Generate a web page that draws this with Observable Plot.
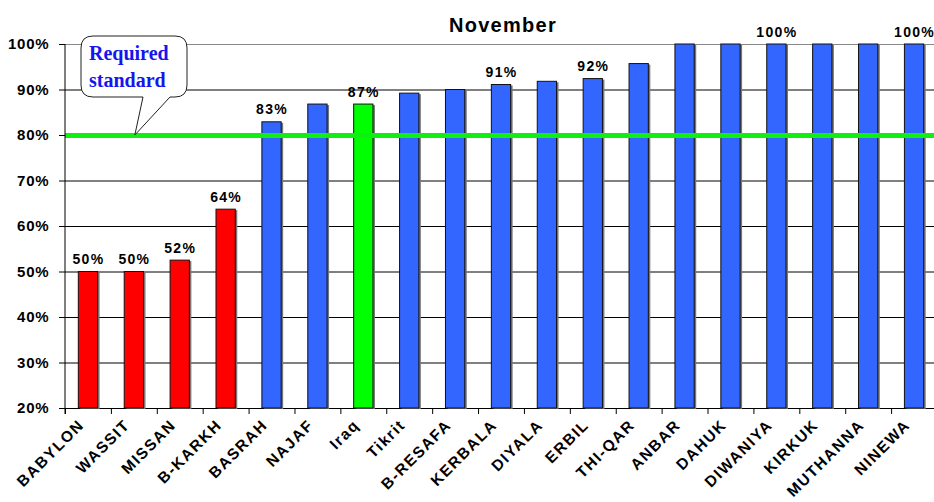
<!DOCTYPE html>
<html>
<head>
<meta charset="utf-8">
<script src="https://cdn.jsdelivr.net/npm/d3@7"></script>
<script src="https://cdn.jsdelivr.net/npm/@observablehq/plot@0.6"></script>
<style>
  html, body { margin: 0; padding: 0; background: #fff; }
</style>
</head>
<body>
<div id="chart"></div>
<script>
const categories = ["BABYLON","WASSIT","MISSAN","B-KARKH","BASRAH","NAJAF","Iraq","Tikrit","B-RESAFA","KERBALA","DIYALA","ERBIL","THI-QAR","ANBAR","DAHUK","DIWANIYA","KIRKUK","MUTHANNA","NINEWA"];
const values = [50, 50, 52.5, 63.7, 82.9, 86.8, 86.8, 89.2, 90.0, 91.1, 91.8, 92.4, 95.7, 100, 100, 100, 100, 100, 100];
const groups = ["below","below","below","below","above","above","iraq","above","above","above","above","above","above","above","above","above","above","above","above"];
const labels = ["50%","50%","52%","64%","83%","","87%","","","91%","","92%","","","","100%","","","100%"];
const yTicks = [20, 30, 40, 50, 60, 70, 80, 90, 100];
const standard = 80;
const title = "November";
const calloutText = ["Required", "standard"];

const data = categories.map((c, i) => ({cat: c, value: values[i], group: groups[i], label: labels[i]}));

const x0 = 65, x1 = 937;
const step = (x1 - x0) / categories.length;

const plot = Plot.plot({
  width: 934,
  height: 502,
  marginLeft: 65,
  marginRight: 0,
  marginTop: 44,
  marginBottom: 94,
  x: {domain: categories, range: [x0, x1], paddingInner: 0.58, paddingOuter: 0.29, round: false, label: null},
  y: {domain: [20, 100], label: null},
  color: {domain: ["below", "above", "iraq"], range: ["#ff0000", "#3366ff", "#00ff00"]},
  style: {fontFamily: "'Liberation Sans', Arial, sans-serif", fontWeight: "bold", fontSize: "15px", color: "#000", background: "#fff", overflow: "visible"},
  marks: [
    Plot.ruleY(yTicks.filter(t => t < 100), {y: d => d, stroke: "#000", strokeWidth: 1, strokeOpacity: 1}),
    Plot.ruleY([100], {y: d => d, stroke: "#888", strokeWidth: 1.2}),
    Plot.axisY({ticks: yTicks, tickSize: 6, tickPadding: 10, tickFormat: d => d + "%", fontSize: 15, fontWeight: "bold", label: null}),
    Plot.barY(data, {x: "cat", y1: 20, y2: "value", fill: "#777", dx: 2, dy: 1}),
    Plot.barY(data, {x: "cat", y1: 20, y2: "value", fill: "group", stroke: "#111", strokeWidth: 1}),
    Plot.ruleY([standard], {y: d => d, stroke: "#11ee11", strokeWidth: 5}),
    Plot.text(data, {x: "cat", y: "value", text: "label", lineAnchor: "bottom", dy: -8, dx: 0, fontSize: 14, fontWeight: "bold", fill: "#000"}),
    Plot.axisX({ticks: categories, tickSize: 6, tickFormat: () => "", dx: -step / 2, label: null}),
    Plot.axisX({ticks: categories, tickSize: 0, tickRotate: -45, tickPadding: 14, dx: -7, fontSize: 15.5, fontWeight: "bold", label: null}),
    Plot.text([title], {frameAnchor: "top", text: d => d, dy: -27, dx: 3, fontSize: 20, fontWeight: "bold", fill: "#000"})
  ]
});

document.getElementById("chart").appendChild(plot);

const svg = d3.select(plot);
// the original's lettering is slightly wide; mimic with letter spacing
svg.selectAll('g[aria-label="x-axis tick label"] text').style("letter-spacing", "1.5px");
svg.selectAll('g[aria-label="y-axis tick label"] text').style("letter-spacing", "0.8px");
svg.selectAll('g[aria-label="text"] text').style("letter-spacing", "1.3px");

// left axis line and callout annotation, positioned with the plot's scales
const xs = plot.scale("x"), ys = plot.scale("y");
const yTop = ys.apply(100), yBottom = ys.apply(20);
svg.append("line").attr("x1", x0).attr("x2", x0).attr("y1", yTop).attr("y2", yBottom + 6).attr("stroke", "#000").attr("stroke-width", 1);

// Callout pointing to the standard line near WASSIT
const tipX = xs.apply("WASSIT") + xs.bandwidth / 2 + 1;
const tipY = ys.apply(standard);
const bx = 81, by = 36, bw = 106, bh = 61, r = 12;
const tailL = 143, tailR = 170;
const path = [
  `M${bx + r},${by}`,
  `H${bx + bw - r}`,
  `Q${bx + bw},${by} ${bx + bw},${by + r}`,
  `V${by + bh - r}`,
  `Q${bx + bw},${by + bh} ${bx + bw - r},${by + bh}`,
  `H${tailR}`,
  `L${tipX},${tipY}`,
  `L${tailL},${by + bh}`,
  `H${bx + r}`,
  `Q${bx},${by + bh} ${bx},${by + bh - r}`,
  `V${by + r}`,
  `Q${bx},${by} ${bx + r},${by}`,
  "Z"
].join(" ");
svg.append("path").attr("d", path).attr("fill", "#fff").attr("stroke", "#222").attr("stroke-width", 1);
const serif = "'Liberation Serif', 'Times New Roman', serif";
svg.append("text")
  .attr("x", 89).attr("y", 60)
  .attr("text-anchor", "start")
  .attr("font-family", serif)
  .attr("font-weight", "bold").attr("font-size", 20).attr("fill", "#1515ee")
  .text(calloutText[0]);
svg.append("text")
  .attr("x", 89).attr("y", 87)
  .attr("text-anchor", "start")
  .attr("font-family", serif)
  .attr("font-weight", "bold").attr("font-size", 20).attr("fill", "#1515ee")
  .text(calloutText[1]);
</script>
</body>
</html>
